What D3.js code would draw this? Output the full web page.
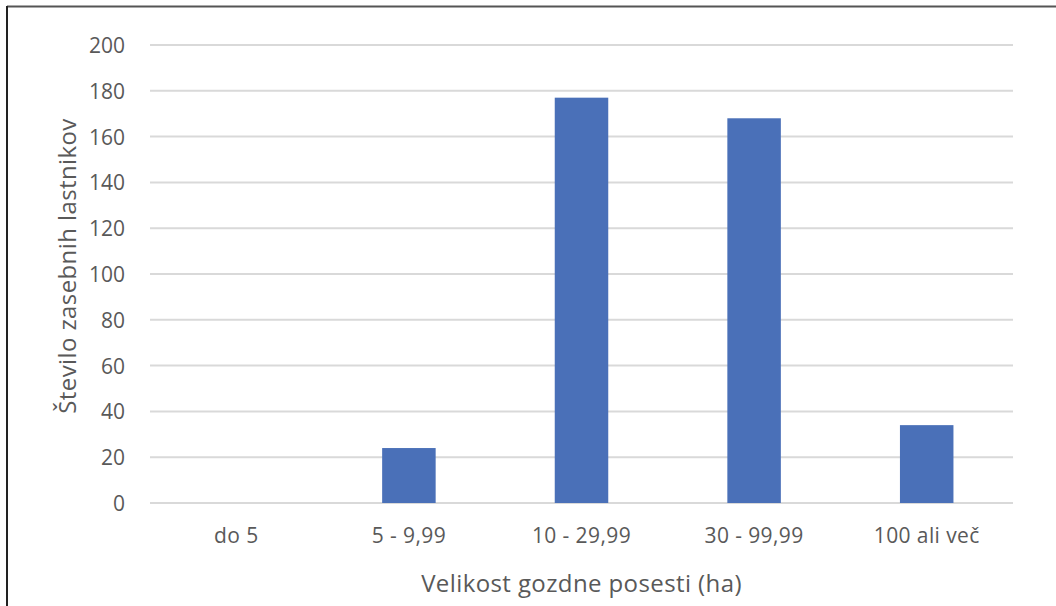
<!DOCTYPE html>
<html>
<head>
<meta charset="utf-8">
<script src="https://cdn.jsdelivr.net/npm/d3@7"></script>
<style>
  body { margin: 0; background: #fff; }
  svg text { font-family: "Open Sans", "Liberation Sans", sans-serif; fill: #595959; }
</style>
</head>
<body>
<svg id="chart" width="1056" height="606"></svg>
<script>
// data
var categories = ["do 5", "5 - 9,99", "10 - 29,99", "30 - 99,99", "100 ali več"];
var owners = [0, 24, 177, 168, 34];
var yTicks = [0, 20, 40, 60, 80, 100, 120, 140, 160, 180, 200];

var svg = d3.select("#chart");
var plotLeft = 150, plotRight = 1013, plotTop = 45, plotBottom = 503;

// frame: top and left lines
svg.append("line").attr("x1", 7).attr("x2", 1056).attr("y1", 6.5).attr("y2", 6.5)
  .attr("stroke", "#555").attr("stroke-width", 2);
svg.append("line").attr("x1", 7).attr("x2", 7).attr("y1", 6).attr("y2", 606)
  .attr("stroke", "#222").attr("stroke-width", 2);

var x = d3.scaleBand().domain(categories).range([plotLeft, plotRight]).paddingInner(0.69).paddingOuter(0.345);
var y = d3.scaleLinear().domain([0, 200]).range([plotBottom, plotTop]);

// gridlines
svg.append("g").selectAll("line").data(yTicks).join("line")
  .attr("x1", plotLeft).attr("x2", plotRight)
  .attr("y1", function(d) { return y(d); }).attr("y2", function(d) { return y(d); })
  .attr("stroke", "#d9d9d9").attr("stroke-width", 2);

// y axis labels
var yAxis = svg.append("g").attr("transform", "translate(125,0)")
  .call(d3.axisLeft(y).tickValues(yTicks).tickSize(0).tickPadding(0));
yAxis.select(".domain").remove();
yAxis.selectAll("text").attr("font-size", 21).attr("dy", "0.36em");

// bars
svg.append("g").selectAll("rect").data(owners).join("rect")
  .attr("x", function(d, i) { return x(categories[i]); })
  .attr("width", x.bandwidth())
  .attr("y", function(d) { return y(d); })
  .attr("height", function(d) { return y(0) - y(d); })
  .attr("fill", "#4a70b8");

// x axis labels
var xAxis = svg.append("g").attr("transform", "translate(0," + plotBottom + ")")
  .call(d3.axisBottom(x).tickSize(0).tickPadding(0));
xAxis.select(".domain").remove();
xAxis.selectAll("text").attr("font-size", 21).attr("letter-spacing", 0.4)
  .attr("y", 40).attr("dy", 0);

// axis titles
svg.append("text").attr("x", (plotLeft + plotRight) / 2).attr("y", 592)
  .attr("text-anchor", "middle").attr("font-size", 24).attr("letter-spacing", 0.4)
  .text("Velikost gozdne posesti (ha)");
svg.append("text")
  .attr("transform", "translate(76,266) rotate(-90)")
  .attr("text-anchor", "middle").attr("font-size", 24).attr("letter-spacing", 0.4)
  .text("Število zasebnih lastnikov");
</script>
</body>
</html>
